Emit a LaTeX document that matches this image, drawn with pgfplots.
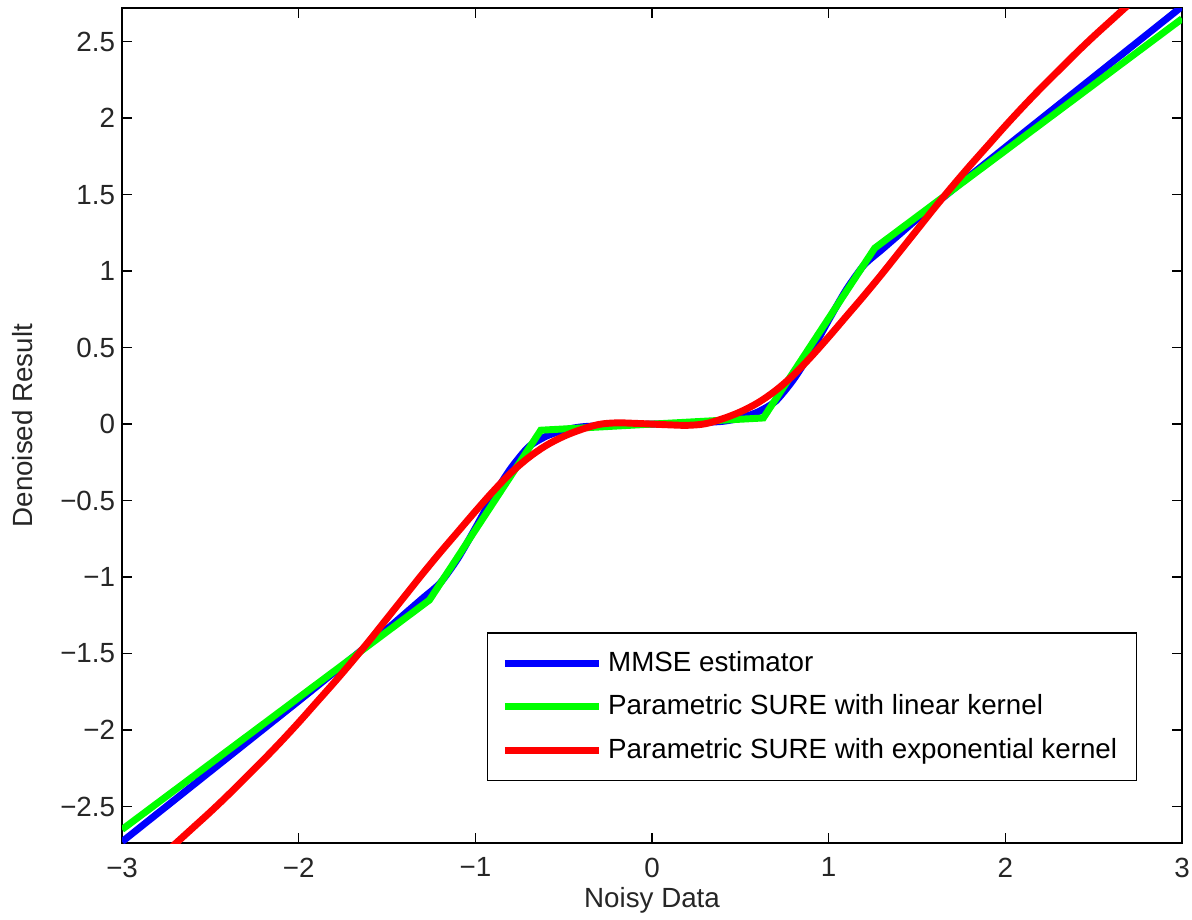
\documentclass[border=0pt]{standalone}
\usepackage{pgfplots}
\pgfplotsset{compat=1.18}
\usepackage{fontspec}
\setmainfont{Liberation Sans}
\definecolor{mblue}{RGB}{0,0,255}
\definecolor{mgreen}{RGB}{0,255,0}
\definecolor{mred}{RGB}{255,0,0}
\begin{document}
\begin{tikzpicture}
\begin{axis}[
  name=ax,
  scale only axis,
  width=382pt, height=301pt,
  xmin=-3, xmax=3, ymin=-2.74, ymax=2.72,
  xtick={-3,-2,-1,0,1,2,3},
  xticklabels={−3,−2,−1,0,1,2,3},
  ytick={-2.5,-2,-1.5,-1,-0.5,0,0.5,1,1.5,2,2.5},
  yticklabels={−2.5,−2,−1.5,−1,−0.5,0,0.5,1,1.5,2,2.5},
  tick align=inside, tick pos=both,
  major tick length=3.6pt,
  tick style={black, line width=0.5pt},
  axis line style={line width=0.6pt},
  ticklabel style={font=\fontsize{10}{12}\selectfont, color=black!85},
  xticklabel style={yshift=-1.7pt, inner xsep=0pt},
  yticklabel style={xshift=1pt},
  xlabel={Noisy Data}, ylabel={Denoised Result},
  label style={font=\fontsize{10}{12}\selectfont, color=black!85},
  xlabel style={yshift=-0.2pt, inner ysep=0pt},
  ylabel style={yshift=3pt},
  legend style={at={(0.344,0.074)}, anchor=south west, draw=black, line width=0.6pt,
    font=\fontsize{10}{12}\selectfont, row sep=3pt, inner xsep=5pt, inner ysep=4.5pt},
  legend cell align=left,
  legend image code/.code={\draw[#1, line width=2.5pt] (0pt,0pt) -- (34pt,0pt);},
  every axis plot/.append style={line width=2.5pt},
]
\addplot[mblue, smooth, tension=0.4] coordinates {
(-3.0,-2.73) (-2.5,-2.27) (-2.0,-1.81) (-1.7,-1.53) (-1.5,-1.34) (-1.4,-1.24) (-1.3,-1.14)
(-1.2,-1.04) (-1.1,-0.88) (-1.0,-0.68) (-0.9,-0.47) (-0.8,-0.29) (-0.7,-0.15) (-0.6,-0.08)
(-0.5,-0.04) (-0.4,-0.018) (-0.2,-0.005) (0,0)
(0.2,0.005) (0.4,0.018) (0.5,0.04) (0.6,0.08) (0.7,0.15) (0.8,0.29) (0.9,0.47)
(1.0,0.68) (1.1,0.88) (1.2,1.04) (1.3,1.14) (1.4,1.24) (1.5,1.34) (1.7,1.53)
(2.0,1.81) (2.5,2.27) (3.0,2.73)
};
\addlegendentry{MMSE estimator}
\addplot[mgreen] coordinates {
(-3,-2.65) (-1.26,-1.15) (-0.63,-0.04) (0.63,0.04) (1.26,1.15) (3,2.65)
};
\addlegendentry{Parametric SURE with linear kernel}
\addplot[mred, smooth, tension=0.55] coordinates {
(-2.8,-2.85) (-2.7,-2.745) (-2.6,-2.64) (-2.5,-2.535) (-2.4,-2.425) (-2.3,-2.31) (-2.2,-2.195)
(-2.1,-2.075) (-2.0,-1.95) (-1.9,-1.82) (-1.8,-1.69) (-1.7,-1.555) (-1.6,-1.415) (-1.5,-1.27)
(-1.4,-1.125) (-1.3,-0.98) (-1.2,-0.84) (-1.1,-0.705) (-1.0,-0.57) (-0.9,-0.44) (-0.8,-0.32)
(-0.7,-0.22) (-0.6,-0.14) (-0.5,-0.08) (-0.4,-0.035) (-0.3,-0.002) (-0.2,0.008) (-0.1,0.005)
(0,0)
(0.1,-0.005) (0.2,-0.008) (0.3,0.002) (0.4,0.035) (0.5,0.08) (0.6,0.14) (0.7,0.22)
(0.8,0.32) (0.9,0.44) (1.0,0.57) (1.1,0.705) (1.2,0.84) (1.3,0.98) (1.4,1.125)
(1.5,1.27) (1.6,1.415) (1.7,1.555) (1.8,1.69) (1.9,1.82) (2.0,1.95) (2.1,2.075)
(2.2,2.195) (2.3,2.31) (2.4,2.425) (2.5,2.535) (2.6,2.64) (2.7,2.745) (2.8,2.85)
};
\addlegendentry{Parametric SURE with exponential kernel}
\end{axis}
\path ([xshift=-44pt,yshift=-27.4pt]ax.south west) -- ([xshift=3.6pt,yshift=2.9pt]ax.north east);
\end{tikzpicture}
\end{document}
